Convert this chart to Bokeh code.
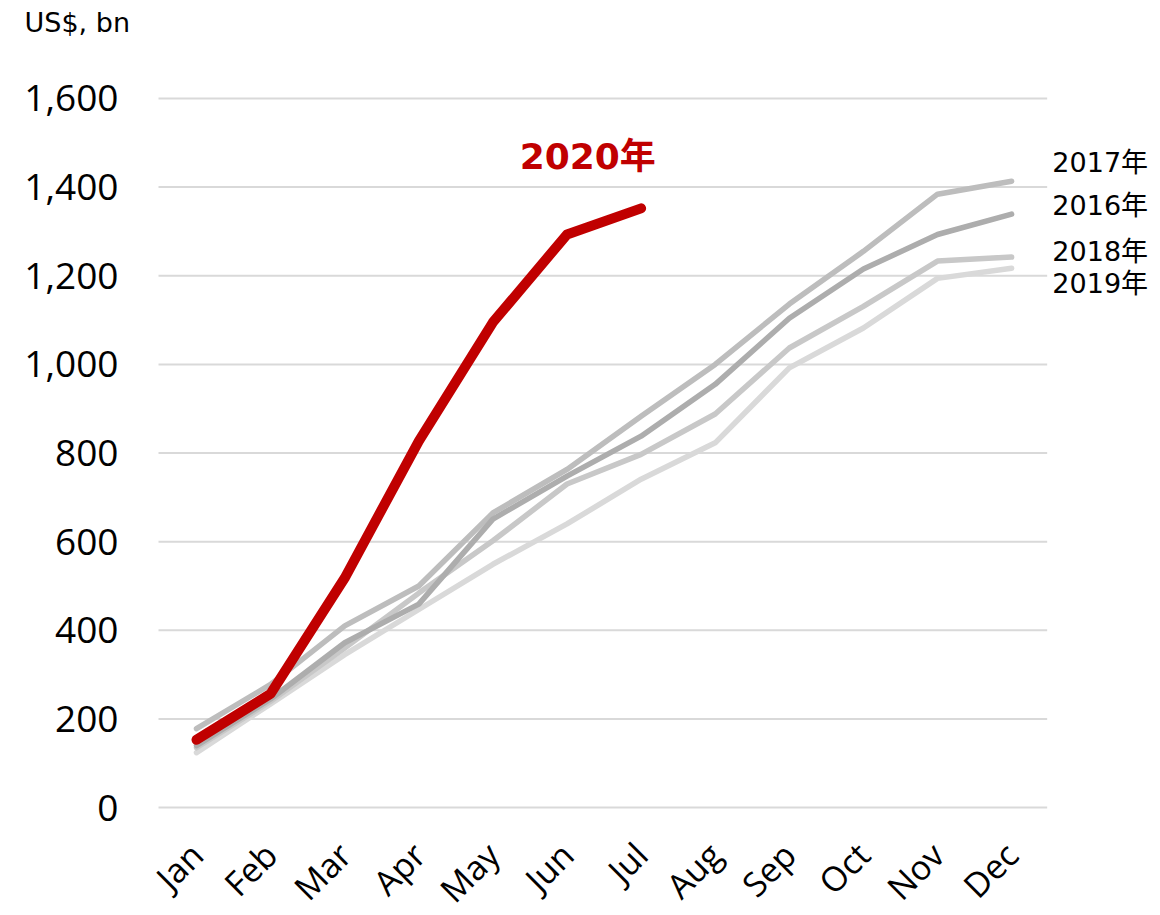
import math
from bokeh.plotting import figure
from bokeh.models import FixedTicker, NumeralTickFormatter, Label, Range1d
from bokeh.core.properties import value
from bokeh.embed import file_html
from bokeh.resources import INLINE

months = ["Jan", "Feb", "Mar", "Apr", "May", "Jun", "Jul", "Aug", "Sep", "Oct", "Nov", "Dec"]
y_ticks = [0, 200, 400, 600, 800, 1000, 1200, 1400, 1600]

v2016 = [140, 245, 372, 459, 651, 748, 838, 955, 1104, 1215, 1293, 1339]
v2017 = [178, 278, 410, 500, 665, 763, 883, 1000, 1136, 1255, 1384, 1413]
v2018 = [135, 240, 360, 484, 602, 730, 797, 888, 1037, 1131, 1233, 1242]
v2019 = [124, 234, 345, 447, 549, 640, 741, 823, 992, 1082, 1194, 1217]
v2020 = [153, 257, 518, 827, 1095, 1293, 1352]

x_idx = list(range(len(months)))

STEP = 74.1   # pixels per month
PX = 0.44375  # pixels per unit
FRAME_L = 130
XS = (FRAME_L - 196) / STEP
XG = (158 - 196) / STEP
p = figure(width=1160, height=915, output_backend="svg", toolbar_location=None,
           x_range=Range1d(XS, XS + (1160 - FRAME_L) / STEP),
           y_range=Range1d(-(915 - 807) / PX, 1600 + (97 - 40) / PX),
           min_border_left=FRAME_L, min_border_right=0, min_border_top=40, min_border_bottom=0,
           title="US$, bn")
p.outline_line_color = None
p.background_fill_color = "white"
p.border_fill_color = "white"
p.xgrid.visible = False
p.ygrid.visible = False
p.xaxis.visible = False

p.title.align = "left"
p.title.offset = 24 - FRAME_L
p.title.text_font = "DejaVu Sans"
p.title.text_font_size = "27px"
p.title.text_font_style = "normal"
p.title.text_color = "black"
p.title.standoff = 8

# gridlines
p.segment(x0=[XG] * len(y_ticks), x1=[11.48] * len(y_ticks), y0=y_ticks, y1=y_ticks,
          line_color="#d9d9d9", line_width=2)

axis_font = "Open Sans"
p.yaxis.ticker = FixedTicker(ticks=y_ticks)
p.yaxis.formatter = NumeralTickFormatter(format="0,0")
p.yaxis.axis_line_color = None
p.yaxis.major_tick_line_color = None
p.yaxis.minor_tick_line_color = None
p.yaxis.major_tick_out = 0
p.yaxis.major_tick_in = 0
p.yaxis.major_label_standoff = FRAME_L - 118
p.yaxis.major_label_text_font = axis_font
p.yaxis.major_label_text_font_size = "37px"
p.yaxis.major_label_text_color = "black"

# month labels (category axis labels), rotated
p.text(x=x_idx, y=[-(848 - 807) / PX] * len(months), text=months, angle=math.pi / 4,
       text_align="right", text_baseline="middle", text_font=value(axis_font),
       text_font_size="34px", text_color="black")

gray_series = [(v2019, "#d9d9d9"), (v2018, "#c8c8c8"), (v2017, "#bdbdbd"), (v2016, "#adadad")]
for vals, col in gray_series:
    p.line(x_idx, vals, line_color=col, line_width=5.5, line_cap="round", line_join="round")

p.line(x_idx[:len(v2020)], v2020, line_color="#c00000", line_width=10, line_cap="round", line_join="round")

lab_font = "DejaVu Sans, Noto Sans CJK JP"
p.add_layout(Label(x=5.28, y=(807 - 155) / PX, text="2020年", text_align="center", text_baseline="alphabetic",
                   text_font=lab_font, text_font_size="36px", text_font_style="bold",
                   text_color="#c00000"))

right_labels = [("2017年", 161), ("2016年", 204), ("2018年", 250), ("2019年", 282)]
for t, py in right_labels:
    p.add_layout(Label(x=11.55, y=(807 - py) / PX, text=t, text_align="left", text_baseline="alphabetic",
                       text_font=lab_font, text_font_size="27px", text_color="black"))

open("out.html", "w").write(file_html(p, INLINE))
